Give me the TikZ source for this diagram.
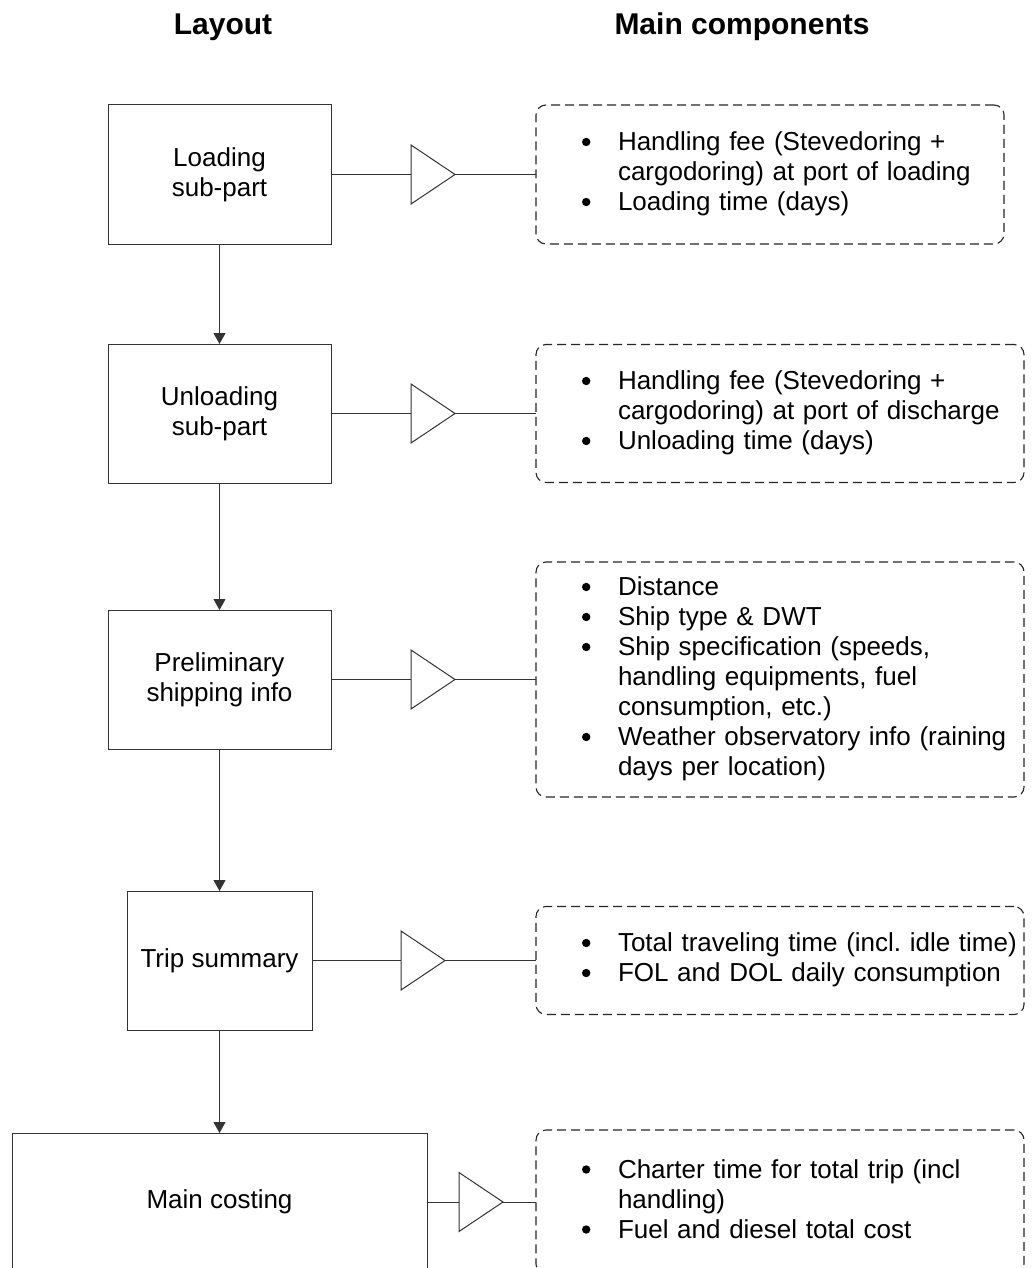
\documentclass[tikz,border=0pt]{standalone}
\usepackage{fontspec}
\setmainfont{Liberation Sans}
\usetikzlibrary{arrows.meta,shapes.geometric}
\frenchspacing
% bullet item and continuation line for the component lists
\newcommand\compbullet{\tikz[baseline=-8.5pt,x=1pt,y=1pt]\fill[black] (0,0) circle[radius=4.2pt];}
\newcommand\compitem[1]{\makebox[37pt][l]{\hspace*{1pt}\compbullet}#1}
\newcommand\compcont[1]{\hspace*{37pt}#1}
\begin{document}
\begin{tikzpicture}[x=1pt,y=-1pt,
  stroke/.style={draw=black!80,line width=1pt},
  stage/.style={stroke,rectangle,inner sep=0pt,outer sep=0pt,align=center,
    font=\fontsize{26}{30}\selectfont},
  gain/.style={stroke,isosceles triangle,isosceles triangle stretches,
    minimum width=59pt,minimum height=44pt,inner sep=0pt,outer sep=0pt,anchor=lower side},
  info/.style={draw=black!85,line width=1.1pt,dash pattern=on 9pt off 5pt,
    rounded corners=10pt,inner xsep=45pt,inner ysep=0pt,outer sep=0pt,
    text width=398pt,align=left,font=\fontsize{26}{30}\selectfont},
  flow/.style={stroke,-{Triangle[length=11pt,width=12pt]}},
  link/.style={stroke},
  heading/.style={font=\fontsize{30}{36}\selectfont\bfseries,anchor=base}
]
\clip (0,0) rectangle (1032,1268);
\fill[white] (0,0) rectangle (1032,1268);

% column headings
\node[heading] (hlayout) at (223,35) {Layout};
\node[heading] (hcomp) at (742,35) {Main components};

% layout stages
\node[stage,minimum width=223pt,minimum height=139pt] (b1) at (219.5,174.5) {Loading\\sub-part};
\node[stage,minimum width=223pt,minimum height=139pt] (b2) at (219.5,413.5) {Unloading\\sub-part};
\node[stage,minimum width=223pt,minimum height=139pt] (b3) at (219.5,679.5) {Preliminary\\shipping info};
\node[stage,minimum width=185pt,minimum height=139pt] (b4) at (219.5,960.5) {Trip summary};
\node[stage,minimum width=415pt,minimum height=138pt] (b5) at (219.5,1202) {Main costing};

% triangles between stages and components
\node[gain] (t1) at (411,174.5) {};
\node[gain] (t2) at (411,413.5) {};
\node[gain] (t3) at (411,679.5) {};
\node[gain] (t4) at (401,960.5) {};
\node[gain] (t5) at (459,1202) {};

% component lists
\node[info,text width=378pt,minimum height=139pt] (c1) at (770,174.5) {%
  \begin{tabular}{@{}l@{}}
  \compitem{Handling fee (Stevedoring +}\\
  \compcont{cargodoring) at port of loading}\\
  \compitem{Loading time (days)}
  \end{tabular}};
\node[info,minimum height=138pt] (c2) at (780,413.5) {%
  \begin{tabular}{@{}l@{}}
  \compitem{Handling fee (Stevedoring +}\\
  \compcont{cargodoring) at port of discharge}\\
  \compitem{Unloading time (days)}
  \end{tabular}};
\node[info,minimum height=235pt] (c3) at (780,679.5) {%
  \begin{tabular}{@{}l@{}}
  \compitem{Distance}\\
  \compitem{Ship type \& DWT}\\
  \compitem{Ship specification (speeds,}\\
  \compcont{handling equipments, fuel}\\
  \compcont{consumption, etc.)}\\
  \compitem{Weather observatory info (raining}\\
  \compcont{days per location)}
  \end{tabular}};
\node[info,minimum height=108pt] (c4) at (780,960.5) {%
  \begin{tabular}{@{}l@{}}
  \compitem{Total traveling time (incl. idle time)}\\
  \compitem{FOL and DOL daily consumption}
  \end{tabular}};
\node[info,minimum height=144pt] (c5) at (780,1202) {%
  \begin{tabular}{@{}l@{}}
  \compitem{Charter time for total trip (incl}\\
  \compcont{handling)}\\
  \compitem{Fuel and diesel total cost}
  \end{tabular}};

% flow between stages
\draw[flow] (b1.south) -- (b2.north);
\draw[flow] (b2.south) -- (b3.north);
\draw[flow] (b3.south) -- (b4.north);
\draw[flow] (b4.south) -- (b5.north);

% stage to component links
\foreach \i in {1,...,5}{
  \draw[link] (b\i.east) -- (t\i.lower side);
  \draw[link] (t\i.apex) -- (c\i.west);
}
\end{tikzpicture}
\end{document}
